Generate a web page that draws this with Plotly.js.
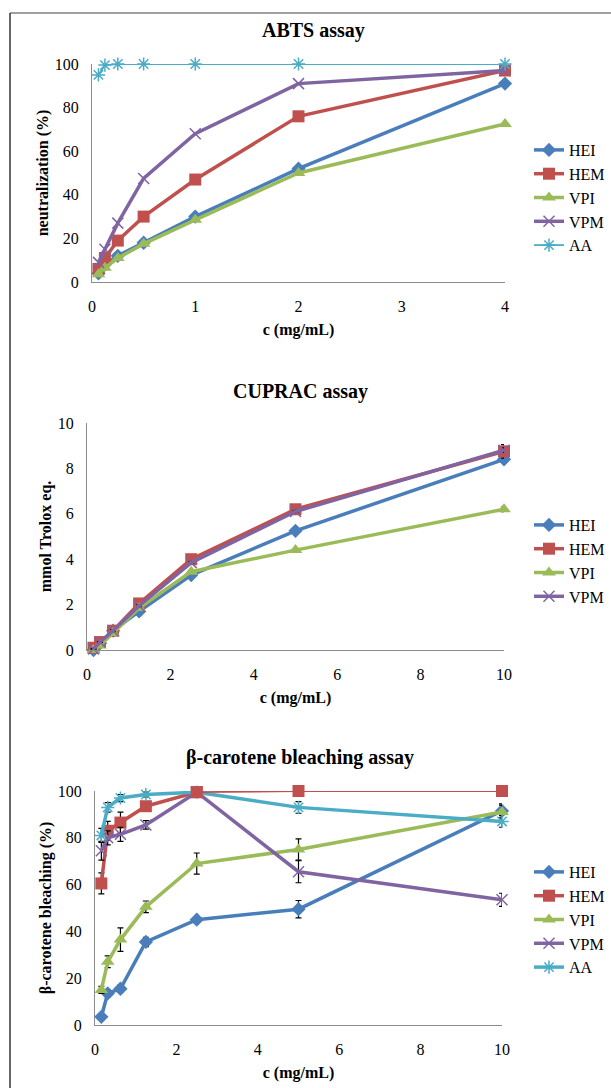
<!DOCTYPE html>
<html>
<head>
<meta charset="utf-8">
<script src="https://cdn.plot.ly/plotly-3.0.1.min.js"></script>
<style>html,body{margin:0;padding:0;background:#fff;}#chart{width:611px;height:1088px;}</style>
</head>
<body>
<div id="chart"></div>
<script>
// ---------- DATA ----------
const seriesNames = ["HEI", "HEM", "VPI", "VPM", "AA"];

// ABTS assay
const abtsConc = [0.0625, 0.125, 0.25, 0.5, 1, 2, 4];
const abtsHEI = [4, 8, 12, 18, 30, 52, 91];
const abtsHEM = [6, 11, 19, 30, 47, 76, 97];
const abtsVPI = [3.5, 6.5, 11, 17.5, 28.5, 50, 72.5];
const abtsVPM = [9, 15, 27, 47.5, 68, 91, 97];
const abtsAA  = [95, 99.5, 100, 100, 100, 100, 100];

// CUPRAC assay
const cupracConc = [0.156, 0.3125, 0.625, 1.25, 2.5, 5, 10];
const cupracHEI = [0, 0.3, 0.85, 1.7, 3.3, 5.25, 8.4];
const cupracHEM = [0.1, 0.35, 0.85, 2.05, 4.0, 6.2, 8.75];
const cupracVPI = [0, 0.2, 0.75, 1.85, 3.45, 4.4, 6.2];
const cupracVPM = [0.05, 0.35, 0.85, 1.95, 3.85, 6.1, 8.8];
const cupracHEIerr = [0.02, 0.02, 0.05, 0.05, 0.05, 0.05, 0.1];
const cupracHEMerr = [0.02, 0.02, 0.05, 0.05, 0.05, 0.05, 0.3];
const cupracVPIerr = [0.02, 0.02, 0.05, 0.05, 0.05, 0.05, 0.1];
const cupracVPMerr = [0.02, 0.02, 0.05, 0.05, 0.05, 0.05, 0.1];

// beta-carotene bleaching assay
const betaConc = [0.156, 0.3125, 0.625, 1.25, 2.5, 5, 10];
const betaHEI = [3.5, 13.5, 15.5, 35.5, 45, 49.5, 91.5];
const betaHEM = [60.5, 83, 86.5, 93.5, 99.5, 100, 100];
const betaVPI = [15, 27, 36.5, 50.5, 69, 75, 91];
const betaVPM = [74.5, 80, 81.5, 85.5, 99.5, 65.5, 53.5];
const betaAA  = [81, 93, 97, 98.5, 99.5, 93, 87];
const betaHEIerr = [1, 1.5, 1.5, 2, 1.2, 3.7, 3];
const betaHEMerr = [4.5, 4, 4.5, 1.5, 1, 0.5, 0.5];
const betaVPIerr = [1.5, 2.5, 5, 2.5, 4.5, 4.5, 3];
const betaVPMerr = [4, 3, 3, 1.8, 1, 4.7, 2.8];
const betaAAerr  = [3, 2, 1.5, 1, 0.5, 2.5, 2.5];

// ---------- STYLE ----------
const W = 611, H = 1088;
const FONT = "Liberation Serif";
const colors = {HEI: "#4a7ebb", HEM: "#c0504d", VPI: "#9bbb59", VPM: "#8064a2", AA: "#4bacc6"};
const symbols = {HEI: "diamond", HEM: "square", VPI: "triangle-up", VPM: "x-thin-open", AA: "asterisk-open"};
const msize = {HEI: 11, HEM: 12, VPI: 12, VPM: 11, AA: 11};

function px(x) { return x / W; }
function py(y) { return 1 - y / H; }
function bold(s) { return "<b>" + s + "</b>"; }

function trace(name, x, y, xa, ya, legend, opts) {
  opts = opts || {};
  const t = {
    type: "scatter", mode: "lines+markers", name: name,
    x: x, y: y, xaxis: xa, yaxis: ya, legend: legend,
    cliponaxis: false,
    line: {color: colors[name], width: opts.lw || 3.5},
    marker: {symbol: symbols[name], size: msize[name], color: colors[name],
             line: {color: colors[name], width: (name === "VPM" || name === "AA") ? 1.5 : 0}},
    showlegend: opts.showlegend !== false
  };
  if (opts.err) {
    t.error_y = {type: "data", array: opts.err, visible: true, color: "#000", thickness: 1.2, width: 3};
  }
  return t;
}

const data = [
  trace("HEI", abtsConc, abtsHEI, "x", "y", "legend"),
  trace("HEM", abtsConc, abtsHEM, "x", "y", "legend"),
  trace("VPI", abtsConc, abtsVPI, "x", "y", "legend"),
  trace("VPM", abtsConc, abtsVPM, "x", "y", "legend"),
  trace("AA",  abtsConc, abtsAA,  "x", "y", "legend", {lw: 1.8}),

  trace("HEI", cupracConc, cupracHEI, "x2", "y2", "legend2", {err: cupracHEIerr}),
  trace("HEM", cupracConc, cupracHEM, "x2", "y2", "legend2", {err: cupracHEMerr}),
  trace("VPI", cupracConc, cupracVPI, "x2", "y2", "legend2", {err: cupracVPIerr}),
  trace("VPM", cupracConc, cupracVPM, "x2", "y2", "legend2", {err: cupracVPMerr}),

  trace("HEI", betaConc, betaHEI, "x3", "y3", "legend3", {err: betaHEIerr}),
  trace("HEM", betaConc.slice(0, 5), betaHEM.slice(0, 5), "x3", "y3", "legend3", {err: betaHEMerr.slice(0, 5)}),
  trace("VPI", betaConc, betaVPI, "x3", "y3", "legend3", {err: betaVPIerr}),
  trace("VPM", betaConc, betaVPM, "x3", "y3", "legend3", {err: betaVPMerr}),
  trace("AA",  betaConc, betaAA,  "x3", "y3", "legend3", {err: betaAAerr}),
  trace("HEM", betaConc.slice(4), betaHEM.slice(4), "x3", "y3", "legend3", {lw: 1.8, showlegend: false})
];

function xaxis(domain, range, dtick, anchor) {
  return {
    domain: domain, range: range, dtick: dtick, tick0: 0, anchor: anchor,
    showgrid: false, zeroline: false, showline: true, linecolor: "#8c8c8c", linewidth: 1,
    ticks: "", ticklabelstandoff: 10,
    tickfont: {family: FONT, size: 16, color: "#000"},
    title: {text: bold("c (mg/mL)"), standoff: 9, font: {family: FONT, size: 16, color: "#000"}},
    fixedrange: true
  };
}
function yaxis(domain, range, dtick, anchor, title) {
  return {
    domain: domain, range: range, dtick: dtick, tick0: 0, anchor: anchor,
    showgrid: false, zeroline: false, showline: true, linecolor: "#8c8c8c", linewidth: 1,
    ticks: "", ticklabelstandoff: 9,
    tickfont: {family: FONT, size: 16, color: "#000"},
    title: {text: bold(title), standoff: 2, font: {family: FONT, size: 16, color: "#000"}},
    fixedrange: true
  };
}
function legend(yTop) {
  return {
    x: px(529), y: py(yTop), xanchor: "left", yanchor: "top",
    font: {family: FONT, size: 16, color: "#000"},
    bgcolor: "rgba(0,0,0,0)", borderwidth: 0,
    tracegroupgap: 4, traceorder: "normal"
  };
}

const layout = {
  width: W, height: H,
  margin: {l: 0, r: 0, t: 0, b: 0},
  paper_bgcolor: "#fff", plot_bgcolor: "#fff",
  font: {family: FONT},
  showlegend: true,
  xaxis:  xaxis([px(92), px(505)], [0, 4], 1, "y"),
  yaxis:  yaxis([py(282), py(64)], [0, 100], 20, "x", "neutralization (%)"),
  xaxis2: xaxis([px(87), px(504)], [0, 10], 2, "y2"),
  yaxis2: yaxis([py(650), py(423)], [0, 10], 2, "x2", "mmol Trolox eq."),
  xaxis3: xaxis([px(95), px(502)], [0, 10], 2, "y3"),
  yaxis3: yaxis([py(1025), py(791)], [0, 100], 20, "x3", "β-carotene bleaching (%)"),
  legend: legend(133),
  legend2: legend(508),
  legend3: legend(855),
  annotations: [
    {text: bold("ABTS assay"), x: px(313), y: py(30), xref: "paper", yref: "paper", showarrow: false,
     xanchor: "center", yanchor: "middle",
     font: {family: FONT, size: 20, color: "#000"}},
    {text: bold("CUPRAC assay"), x: px(300), y: py(391), xref: "paper", yref: "paper", showarrow: false,
     xanchor: "center", yanchor: "middle",
     font: {family: FONT, size: 20, color: "#000"}},
    {text: bold("β-carotene bleaching assay"), x: px(300), y: py(757), xref: "paper", yref: "paper", showarrow: false,
     xanchor: "center", yanchor: "middle",
     font: {family: FONT, size: 20, color: "#000"}}
  ],
  shapes: [
    {type: "line", xref: "paper", yref: "paper", x0: px(10), x1: px(611), y0: py(13), y1: py(13), line: {color: "#7f7f7f", width: 1.5}},
    {type: "line", xref: "paper", yref: "paper", x0: px(10), x1: px(10), y0: py(13), y1: py(1088), line: {color: "#333", width: 1.5}}
  ]
};

Plotly.newPlot("chart", data, layout, {displayModeBar: false, staticPlot: true});
</script>
</body>
</html>
